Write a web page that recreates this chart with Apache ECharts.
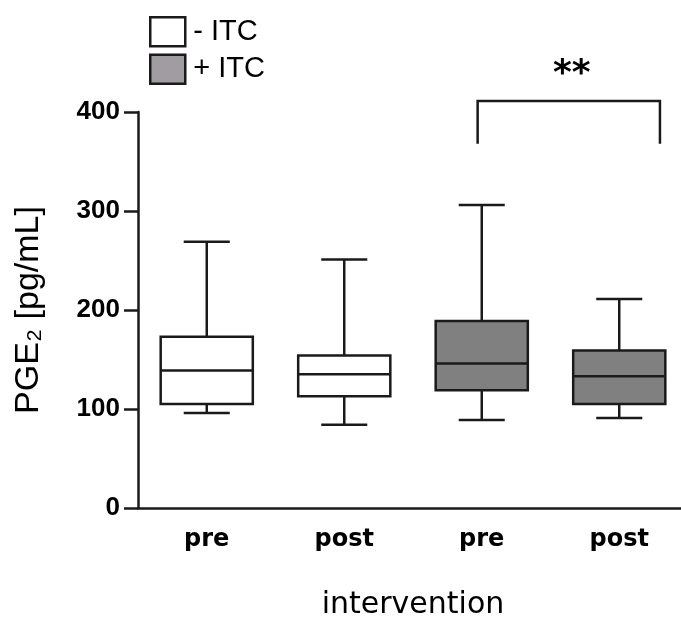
<!DOCTYPE html>
<html>
<head>
<meta charset="utf-8">
<script src="https://cdn.jsdelivr.net/npm/echarts@6/dist/echarts.min.js"></script>
<style>html,body{margin:0;padding:0;background:#fff;}#c{width:681px;height:617px;}</style>
</head>
<body>
<div id="c"></div>
<script>
// ---- data ----
const categories = ['pre', 'post', 'pre', 'post'];
const groups = ['- ITC', '- ITC', '+ ITC', '+ ITC'];
// [min, Q1, median, Q3, max] per box
const boxMin    = [96, 84, 89, 91];
const boxQ1     = [105, 113, 119, 105];
const boxMedian = [139, 135, 146, 133];
const boxQ3     = [173, 154, 189, 159];
const boxMax    = [269, 251, 306, 211];
const yTicks = [0, 100, 200, 300, 400];
const bracket = { from: 2, to: 3, top: 411, bottom: 368, label: '**' };

const seriesNames = ['- ITC', '+ ITC'];
const fills = { '- ITC': '#ffffff', '+ ITC': '#808080' };
const legendFills = { '- ITC': '#ffffff', '+ ITC': '#a19ca2' };
const INK = '#1a1a1a';

function dataFor(name) {
  const out = [];
  categories.forEach((c, i) => {
    if (groups[i] === name) out.push([i, boxMin[i], boxQ1[i], boxMedian[i], boxQ3[i], boxMax[i]]);
  });
  return out;
}

function renderBox(fill) {
  return function (params, api) {
    const x = api.value(0);
    const bw = api.size([1, 0])[0];
    const boxW = bw * 0.67;
    const capW = boxW / 2;
    const pMin = api.coord([x, api.value(1)]);
    const pQ1 = api.coord([x, api.value(2)]);
    const pMed = api.coord([x, api.value(3)]);
    const pQ3 = api.coord([x, api.value(4)]);
    const pMax = api.coord([x, api.value(5)]);
    const cx = pMed[0];
    const ls = { stroke: INK, lineWidth: 2.5 };
    return {
      type: 'group',
      children: [
        { type: 'line', shape: { x1: cx, y1: pMax[1], x2: cx, y2: pQ3[1] }, style: ls },
        { type: 'line', shape: { x1: cx, y1: pQ1[1], x2: cx, y2: pMin[1] }, style: ls },
        { type: 'line', shape: { x1: cx - capW / 2, y1: pMax[1], x2: cx + capW / 2, y2: pMax[1] }, style: ls },
        { type: 'line', shape: { x1: cx - capW / 2, y1: pMin[1], x2: cx + capW / 2, y2: pMin[1] }, style: ls },
        { type: 'rect', shape: { x: cx - boxW / 2, y: pQ3[1], width: boxW, height: pQ1[1] - pQ3[1] },
          style: { fill: fill, stroke: INK, lineWidth: 2.5 } },
        { type: 'line', shape: { x1: cx - boxW / 2, y1: pMed[1], x2: cx + boxW / 2, y2: pMed[1] }, style: ls }
      ]
    };
  };
}

const chart = echarts.init(document.getElementById('c'), null, { renderer: 'canvas' });

const series = seriesNames.map(n => ({
  name: n,
  type: 'custom',
  renderItem: renderBox(fills[n]),
  encode: { x: 0, y: [1, 2, 3, 4, 5] },
  data: dataFor(n),
  itemStyle: { color: legendFills[n], borderColor: INK },
  clip: false,
  silent: true
}));

series.push({
  name: 'bracket',
  type: 'custom',
  clip: false,
  silent: true,
  encode: { x: 0, y: [2, 3] },
  data: [[bracket.from, bracket.to, bracket.top, bracket.bottom]],
  renderItem: function (params, api) {
    const bw = api.size([1, 0])[0];
    const pA = api.coord([api.value(0), api.value(2)]);
    const pB = api.coord([api.value(1), api.value(2)]);
    const pBot = api.coord([api.value(0), api.value(3)]);
    const xl = pA[0] - 0.03 * bw;
    const xr = pB[0] + 0.296 * bw;
    const yt = pA[1], yb = pBot[1];
    return {
      type: 'group',
      children: [
        { type: 'polyline', shape: { points: [[xl, yb], [xl, yt], [xr, yt], [xr, yb]] },
          style: { stroke: INK, lineWidth: 2.5, fill: 'none' } },
        { type: 'text', style: { text: bracket.label, x: (xl + xr) / 2 + 3, y: yt - 26,
          align: 'center', verticalAlign: 'middle',
          font: 'bold 36px "DejaVu Sans", sans-serif', fill: '#000' } }
      ]
    };
  }
});

chart.setOption({
  animation: false,
  backgroundColor: '#fff',
  grid: { left: 138, right: -7, top: 112, bottom: 109, containLabel: false, outerBoundsMode: 'none' },
  legend: {
    orient: 'vertical',
    left: 144,
    top: 11,
    itemWidth: 35,
    itemHeight: 29,
    itemGap: 6,
    icon: 'rect',
    selectedMode: false,
    textStyle: { fontSize: 29, lineHeight: 29, fontFamily: '"Liberation Sans", Arial, sans-serif', color: '#000', padding: [0, 0, 0, 3] },
    data: seriesNames.map(n => ({ name: n, itemStyle: { color: legendFills[n], borderColor: INK, borderWidth: 2.5 } }))
  },
  xAxis: {
    type: 'category',
    data: categories,
    boundaryGap: true,
    name: 'intervention',
    nameLocation: 'middle',
    nameGap: 82,
    nameTextStyle: { fontSize: 30, fontFamily: '"DejaVu Sans", sans-serif', color: '#000' },
    axisLine: { lineStyle: { color: INK, width: 2.5 } },
    axisTick: { alignWithLabel: true, length: 10, lineStyle: { color: INK, width: 2.5 } },
    axisLabel: { margin: 20, fontSize: 24, fontWeight: 'bold', fontFamily: '"DejaVu Sans", sans-serif', color: '#000' },
    splitLine: { show: false }
  },
  yAxis: {
    type: 'value',
    min: yTicks[0],
    max: yTicks[yTicks.length - 1],
    interval: 100,
    name: 'PGE₂ [pg/mL]',
    nameLocation: 'middle',
    nameGap: 92,
    nameTextStyle: { fontSize: 34, fontFamily: '"Liberation Sans", Arial, sans-serif', color: '#000' },
    axisLine: { show: true, lineStyle: { color: INK, width: 2.5 } },
    axisTick: { show: true, length: 14, lineStyle: { color: INK, width: 2.5 } },
    axisLabel: { margin: 18, fontSize: 26, fontWeight: 'bold', fontFamily: '"Liberation Sans", Arial, sans-serif', color: '#000' },
    splitLine: { show: false }
  },
  series: series
});
</script>
</body>
</html>
